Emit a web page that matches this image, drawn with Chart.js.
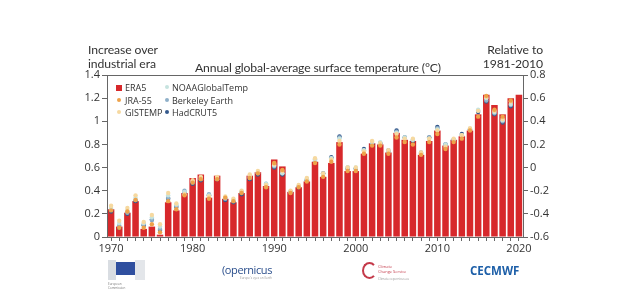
<!DOCTYPE html>
<html>
<head>
<meta charset="utf-8">
<script src="https://cdn.jsdelivr.net/npm/chart.js@4/dist/chart.umd.min.js"></script>
<style>
  html,body{margin:0;padding:0;background:#fff;}
  #wrap{position:relative;width:640px;height:304px;overflow:hidden;font-family:"Open Sans",sans-serif;color:#333;}
  #c{position:absolute;left:0;top:0;}
  .t{position:absolute;font-family:Lato,sans-serif;font-size:12.2px;line-height:14px;color:#333;white-space:nowrap;letter-spacing:-0.1px;}
  .lg{position:absolute;font-size:9px;line-height:11px;color:#333;white-space:nowrap;}
  .sw{position:absolute;}
</style>
</head>
<body>
<div id="wrap">
  <canvas id="c" width="640" height="262"></canvas>
  <div class="t" style="left:88px;top:43px;">Increase over<br>industrial era</div>
  <div class="t" style="left:195px;top:61px;letter-spacing:-0.15px;">Annual global-average surface temperature (°C)</div>
  <div class="t" style="right:97px;top:43px;text-align:right;">Relative to<br>1981-2010</div>

  <div class="sw" style="left:116px;top:85px;width:6px;height:6px;background:#d7282b;"></div>
  <div class="lg" style="left:125px;top:82px;">ERA5</div>
  <div class="sw" style="left:117px;top:98px;width:4px;height:4px;border-radius:50%;background:#eea24a;"></div>
  <div class="lg" style="left:125px;top:95px;">JRA-55</div>
  <div class="sw" style="left:117px;top:110px;width:4px;height:4px;border-radius:50%;background:#f6d9a0;"></div>
  <div class="lg" style="left:125px;top:107px;">GISTEMP</div>
  <div class="sw" style="left:165px;top:85px;width:4px;height:4px;border-radius:50%;background:#c6e3df;"></div>
  <div class="lg" style="left:172px;top:82px;">NOAAGlobalTemp</div>
  <div class="sw" style="left:165px;top:98px;width:4px;height:4px;border-radius:50%;background:#8fb0c9;"></div>
  <div class="lg" style="left:172px;top:95px;">Berkeley Earth</div>
  <div class="sw" style="left:165px;top:110px;width:4px;height:4px;border-radius:50%;background:#35598c;"></div>
  <div class="lg" style="left:172px;top:107px;">HadCRUT5</div>

  <!-- logos -->
  <div class="sw" style="left:108px;top:260px;width:8px;height:20px;background:#d9dde2;"></div>
  <div class="sw" style="left:116px;top:262px;width:19px;height:13px;background:#2f4f9f;"></div>
  <div class="sw" style="left:135px;top:260px;width:10px;height:20px;background:#e3e6ea;"></div>
  <div class="lg" style="left:108px;top:282px;font-size:3px;line-height:4px;color:#777;">European<br>Commission</div>
  <div class="lg" style="left:222px;top:263px;font-size:11px;line-height:13px;color:#2a4e8c;letter-spacing:-0.4px;">(opernicus</div>
  <div class="lg" style="left:240px;top:276px;font-size:3px;line-height:4px;color:#999;">Europe's eyes on Earth</div>
  <div class="sw" style="left:362px;top:262px;width:11px;height:13px;border:2px solid #c43a4a;border-right-color:transparent;border-radius:50%;"></div>
  <div class="lg" style="left:378px;top:264px;font-size:4px;line-height:5px;color:#c43a4a;">Climate<br>Change Service</div>
  <div class="lg" style="left:378px;top:277px;font-size:3px;line-height:4px;color:#999;">Climate.copernicus.eu</div>
  <div class="lg" style="left:470px;top:264px;font-size:11.5px;line-height:14px;font-weight:bold;color:#1d5fa8;">C&#8203;ECMWF</div>
</div>
<script>
const years = ["1970","1971","1972","1973","1974","1975","1976","1977","1978","1979",
  "1980","1981","1982","1983","1984","1985","1986","1987","1988","1989",
  "1990","1991","1992","1993","1994","1995","1996","1997","1998","1999",
  "2000","2001","2002","2003","2004","2005","2006","2007","2008","2009",
  "2010","2011","2012","2013","2014","2015","2016","2017","2018","2019","2020"];

const era5 = [0.24,0.09,0.21,0.31,0.07,0.09,0.02,0.30,0.23,0.38,
  0.51,0.54,0.34,0.53,0.33,0.30,0.38,0.53,0.56,0.44,
  0.67,0.61,0.39,0.43,0.48,0.65,0.52,0.64,0.82,0.57,
  0.57,0.72,0.81,0.80,0.73,0.90,0.84,0.83,0.71,0.83,
  0.92,0.79,0.84,0.87,0.92,1.06,1.23,1.14,1.06,1.20,1.23];

const jra55 = [0.23,0.08,0.22,0.32,0.08,0.11,0.04,0.31,0.24,0.36,
  0.47,0.50,0.33,0.50,0.34,0.31,0.38,0.51,0.55,0.43,
  0.64,0.58,0.38,0.43,0.48,0.64,0.52,0.65,0.80,0.57,
  0.57,0.72,0.79,0.79,0.72,0.86,0.82,0.80,0.71,0.82,
  0.89,0.76,0.82,0.85,0.92,1.04,1.22,1.10,1.04,1.18,null];

const gistemp = [0.27,0.14,0.25,0.36,0.13,0.19,0.11,0.38,0.29,0.37,
  0.49,0.52,0.35,0.52,0.35,0.33,0.40,0.54,0.57,0.45,
  0.63,0.57,0.40,0.45,0.51,0.68,0.55,0.67,0.83,0.60,
  0.60,0.74,0.83,0.81,0.75,0.89,0.85,0.85,0.73,0.85,
  0.92,0.78,0.85,0.88,0.94,1.09,1.21,1.09,1.02,1.17,null];

const noaa = [0.25,0.12,0.23,0.34,0.12,0.17,0.09,0.36,0.28,0.39,
  0.48,0.51,0.36,0.51,0.34,0.32,0.39,0.52,0.56,0.46,
  0.62,0.55,0.39,0.44,0.50,0.66,0.54,0.68,0.85,0.60,
  0.60,0.75,0.82,0.82,0.74,0.90,0.86,0.84,0.72,0.85,
  0.93,0.80,0.84,0.88,0.93,1.10,1.20,1.08,1.01,1.15,null];

const berkeley = [0.24,0.10,0.21,0.32,0.11,0.15,0.07,0.34,0.27,0.40,
  0.47,0.50,0.37,0.50,0.33,0.31,0.39,0.51,0.55,0.46,
  0.61,0.55,0.39,0.44,0.50,0.67,0.55,0.68,0.86,0.60,
  0.59,0.75,0.81,0.81,0.75,0.91,0.86,0.84,0.73,0.86,
  0.94,0.80,0.84,0.88,0.93,1.09,1.18,1.07,1.00,1.14,null];

const hadcrut5 = [0.22,0.08,0.20,0.31,0.10,0.15,0.06,0.33,0.26,0.38,
  0.46,0.49,0.36,0.50,0.32,0.30,0.37,0.50,0.54,0.45,
  0.60,0.54,0.39,0.43,0.49,0.65,0.55,0.69,0.87,0.59,
  0.59,0.76,0.80,0.81,0.74,0.92,0.86,0.83,0.72,0.86,
  0.95,0.80,0.84,0.89,0.93,1.08,1.17,1.06,0.99,1.13,null];

const leftTicks = [0,0.2,0.4,0.6,0.8,1,1.2,1.4];
const rightTicks = [-0.6,-0.4,-0.2,0,0.2,0.4,0.6,0.8];

Chart.defaults.font.family = '"Open Sans", sans-serif';
Chart.defaults.font.size = 11;
Chart.defaults.color = '#333';

function pts(label, data, color, ord){
  return {type:'line', label, data, showLine:false, pointRadius:2.2, pointHoverRadius:2.2,
    pointBackgroundColor:color, pointBorderColor:color, pointBorderWidth:0, order:ord, yAxisID:'y'};
}

const frame = {
  id:'frame',
  afterDraw(chart){
    const a = chart.chartArea, ctx = chart.ctx;
    ctx.save(); ctx.strokeStyle = '#666'; ctx.lineWidth = 1;
    ctx.strokeRect(Math.round(a.left)+0.5, Math.round(a.top)+0.5, Math.round(a.right-a.left), Math.round(a.bottom-a.top));
    ctx.restore();
  }
};

new Chart(document.getElementById('c'), {
  type:'bar',
  data:{
    labels: years,
    datasets:[
      {type:'bar', label:'ERA5', data:era5, backgroundColor:'#d7282b', borderWidth:0,
       barPercentage:0.8, categoryPercentage:1, order:10, yAxisID:'y'},
      pts('JRA-55', jra55, '#eea24a', 1),
      pts('GISTEMP', gistemp, '#f6d9a0', 2),
      pts('NOAAGlobalTemp', noaa, '#c6e3df', 3),
      pts('Berkeley Earth', berkeley, '#8fb0c9', 4),
      pts('HadCRUT5', hadcrut5, '#35598c', 5)
    ]
  },
  options:{
    responsive:false, animation:false, devicePixelRatio:1,
    layout:{padding:{top:75,left:0,right:0,bottom:0}},
    plugins:{legend:{display:false}, tooltip:{enabled:false}, title:{display:false}},
    scales:{
      x:{
        type:'category', offset:true,
        grid:{drawOnChartArea:false, offset:false, tickLength:4, color:'#666'},
        border:{color:'#666'},
        ticks:{autoSkip:false, maxRotation:0, padding:1,
          callback:function(v,i){ const y = years[i]; return (+y % 10 === 0) ? y : ''; }},
        afterFit(s){ s.height = 25; }
      },
      y:{
        position:'left', min:0, max:1.4,
        afterBuildTicks(s){ s.ticks = leftTicks.map(v=>({value:v})); },
        grid:{drawOnChartArea:false, tickLength:5, color:'#666'},
        border:{color:'#666'},
        ticks:{padding:2, callback:v=>String(+v.toFixed(1))},
        afterFit(s){ s.width = 107; }
      },
      y2:{
        position:'right', min:-0.6, max:0.8,
        afterBuildTicks(s){ s.ticks = rightTicks.map(v=>({value:v})); },
        grid:{drawOnChartArea:false, tickLength:5, color:'#666'},
        border:{color:'#666'},
        ticks:{padding:2, callback:v=>String(+v.toFixed(1))},
        afterFit(s){ s.width = 117; }
      }
    }
  },
  plugins:[frame]
});
</script>
</body>
</html>
